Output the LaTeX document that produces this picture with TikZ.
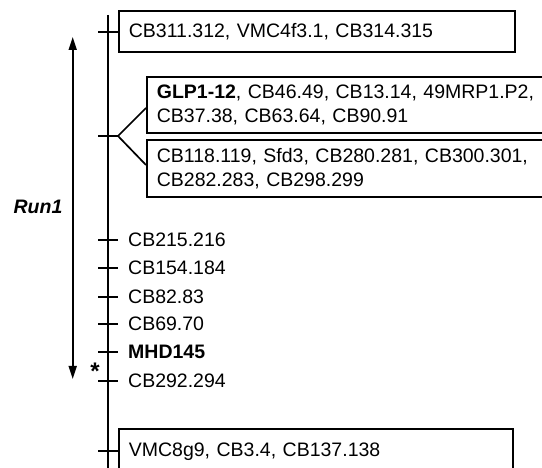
\documentclass[tikz,border=0pt]{standalone}
\usepackage{fontspec}
\setmainfont{Liberation Sans}
\usetikzlibrary{arrows.meta,positioning}

\begin{document}
\begin{tikzpicture}[
  x=1pt, y=-1pt,
  every node/.style={font=\fontsize{19.5}{24}\selectfont},
  mapbox/.style={rectangle, draw, line width=1.7pt, anchor=west, align=left,
                 text width=#1, inner xsep=10pt, inner ysep=0pt},
  mapbox/.default={376pt},
  locus/.style={anchor=west, inner xsep=10pt, inner ysep=0pt},
  chrom/.style={line width=1.7pt},
  arrow/.style={{Triangle[length=13pt,width=8pt]}-{Triangle[length=13pt,width=8pt]},
                line width=1.7pt}
]
  \useasboundingbox (0,0) rectangle (542,468);

  % chromosome line
  \coordinate (ltop) at (108,15);
  \coordinate (lbot) at (108,480);
  \draw[chrom] (ltop) -- (lbot);

  % boxed groups
  \node[mapbox, minimum height=41pt] (top) at (118,31.5) {CB311.312, VMC4f3.1, CB314.315};
  \node[mapbox=420pt, minimum height=56pt] (glp) at (146,105)
       {\textbf{GLP1-12}, CB46.49, CB13.14, 49MRP1.P2,\\CB37.38, CB63.64, CB90.91};
  \node[mapbox=420pt, minimum height=57pt] (sfd) at (146,168.5)
       {CB118.119, Sfd3, CB280.281, CB300.301,\\CB282.283, CB298.299};
  \node[mapbox=374pt, minimum height=46pt] (vmc) at (118,452) {VMC8g9, CB3.4, CB137.138};

  % single markers
  \node[locus] (cb215) at (118,240) {CB215.216};
  \node[locus] (cb154) at (118,268) {CB154.184};
  \node[locus] (cb82)  at (118,297) {CB82.83};
  \node[locus] (cb69)  at (118,324) {CB69.70};
  \node[locus] (mhd)   at (118,352) {\textbf{MHD145}};
  \node[locus] (cb292) at (118,381) {CB292.294};
  \node[font=\fontsize{24}{24}\selectfont\bfseries] (star) at (95,371) {*};

  % ticks
  \draw[chrom] (98,32) -- (top.west |- 0,32);
  \draw[chrom] (98,136) -- (118,136) coordinate (br);
  \draw[chrom] (br) -- ([yshift=-3pt]glp.west);
  \draw[chrom] (br) -- ([yshift=3.5pt]sfd.west);
  \draw[chrom] (98,240) -- (cb215.west);
  \draw[chrom] (98,268) -- (cb154.west);
  \draw[chrom] (98,297) -- (cb82.west);
  \draw[chrom] (98,324) -- (cb69.west);
  \draw[chrom] (98,352) -- (mhd.west);
  \draw[chrom] (98,381) -- (cb292.west);
  \draw[chrom] (98,451) -- (vmc.west |- 0,451);

  % run interval
  \coordinate (runtop) at (72.7,37);
  \coordinate (runbot) at (72.7,379);
  \draw[arrow] (runbot) -- (runtop);
  \node[font=\fontsize{19.5}{24}\selectfont\bfseries\itshape] (run) at (38,207) {Run1};
\end{tikzpicture}
\end{document}
